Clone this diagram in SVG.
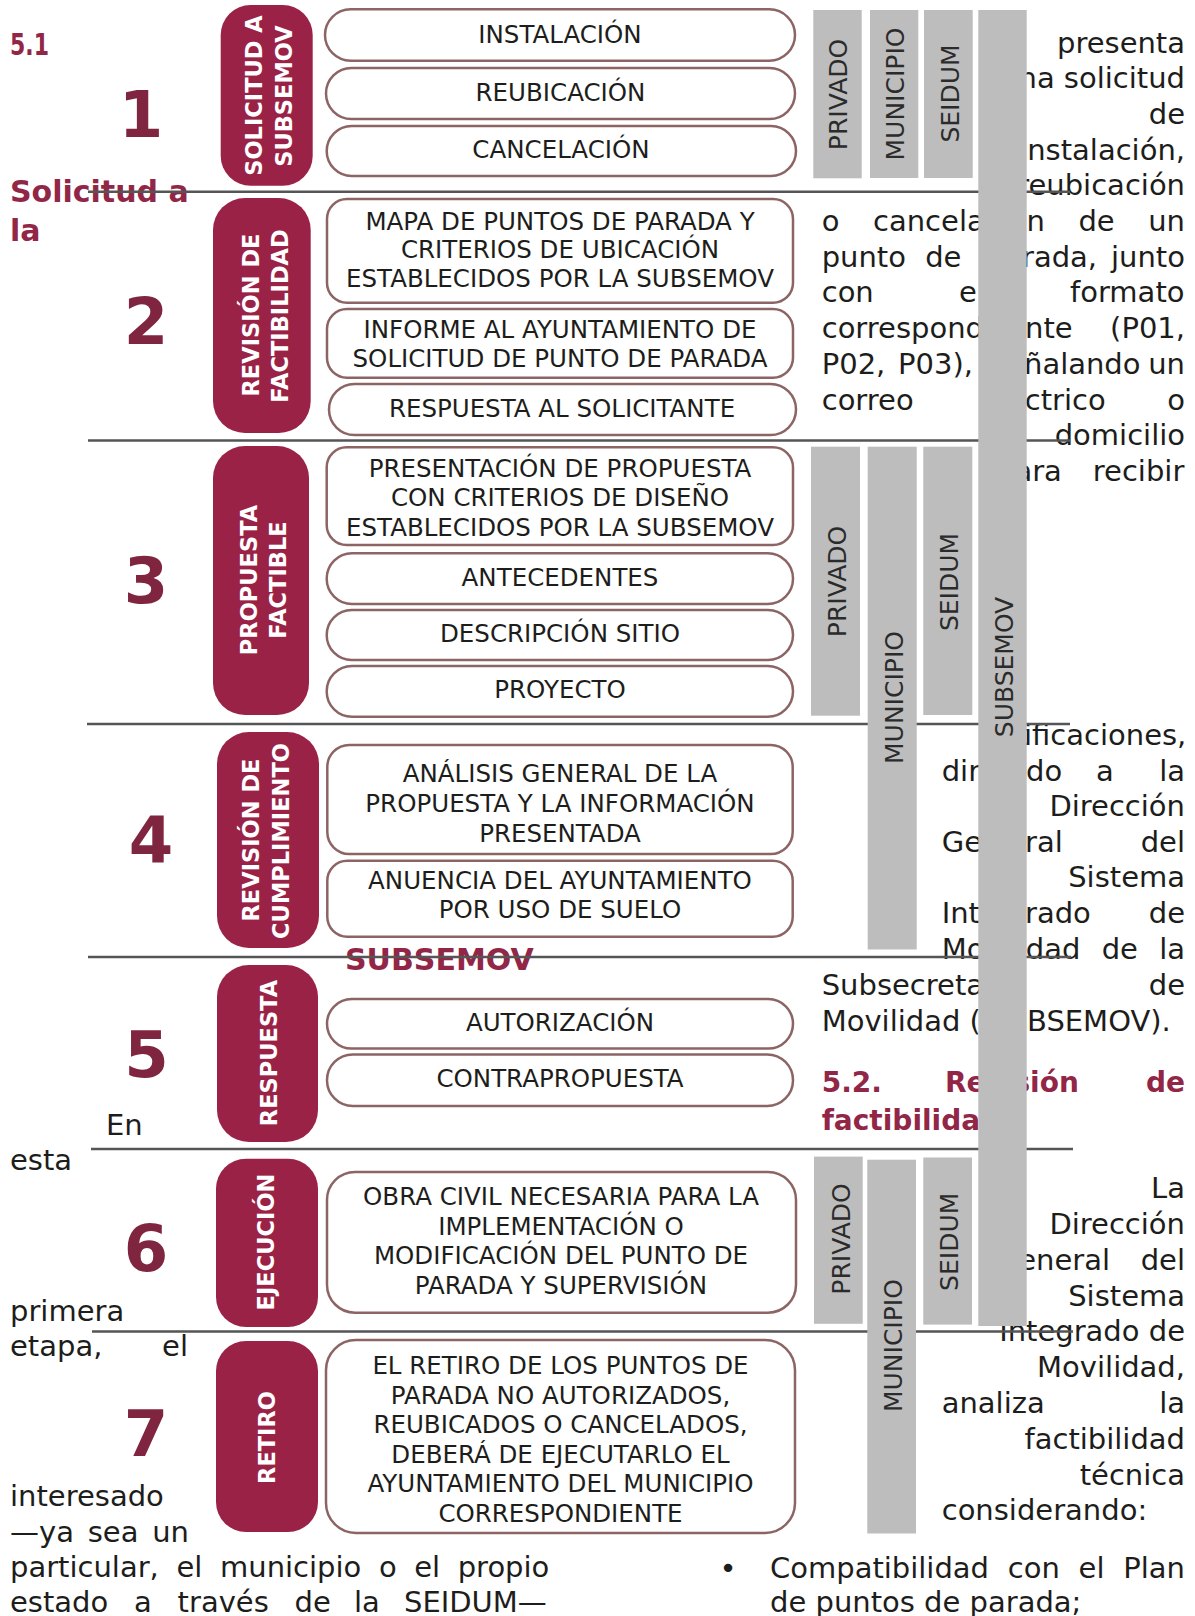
<svg xmlns="http://www.w3.org/2000/svg" width="1195" height="1616" viewBox="0 0 1195 1616">
<style>
text{font-family:"DejaVu Sans","Liberation Sans",sans-serif}
.body{font-size:29px;fill:#1d1d1b}
.e{text-anchor:end}
.h{font-weight:bold;fill:#922647}
.num{font-size:64px;font-weight:bold;fill:#80253f;text-anchor:middle}
.box{fill:#fff;stroke:#8c6464;stroke-width:2.5}
.bt{font-size:24.5px;fill:#1d1d1b;text-anchor:middle}
.badge{fill:#9b2247}
.bdt{font-size:22.5px;font-weight:bold;fill:#fff;text-anchor:middle}
.bar{fill:#bdbdbd}
.bl{font-size:25px;fill:#2b2b2b;text-anchor:middle}
.div{stroke:#555;stroke-width:2.5;fill:none}
</style>

<!-- background body text -->
<g id="background-text">
<text class="h" x="10" y="55" font-size="31" textLength="39" lengthAdjust="spacingAndGlyphs">5.1</text>
<text class="h" x="10" y="202" font-size="30">Solicitud a</text>
<text class="h" x="10" y="240.7" font-size="30">la</text>
<text class="h" x="345" y="970" font-size="30">SUBSEMOV</text>

<text class="body" x="106" y="1134.5">En</text>
<text class="body" x="10" y="1169.7">esta</text>
<text class="body" x="10" y="1320.5">primera</text>
<text class="body" y="1356.3"><tspan x="10">etapa,</tspan><tspan x="188" text-anchor="end">el</tspan></text>
<text class="body" x="10" y="1505.5">interesado</text>
<text class="body" y="1541.5"><tspan x="10">—ya</tspan><tspan x="87.7">sea</tspan><tspan x="152.2">un</tspan></text>
<text class="body" y="1577"><tspan x="10">particular,</tspan><tspan x="176.5">el</tspan><tspan x="220">municipio</tspan><tspan x="378.9">o</tspan><tspan x="414.2">el</tspan><tspan x="457.7">propio</tspan></text>
<text class="body" y="1612"><tspan x="10">estado</tspan><tspan x="134">a</tspan><tspan x="177.6">través</tspan><tspan x="294.5">de</tspan><tspan x="354">la</tspan><tspan x="404">SEIDUM—</tspan></text>

<text class="body e" x="1185" y="52.5">presenta</text>
<text class="body e" x="1185" y="88.2">una solicitud</text>
<text class="body e" x="1185" y="123.9">de</text>
<text class="body e" x="1185" y="159.6">instalación,</text>
<text class="body e" x="1185" y="195.3">reubicación</text>
<text class="body" y="231"><tspan x="821.7">o</tspan><tspan x="873">cancelación</tspan><tspan x="1078.4">de</tspan><tspan x="1148.2">un</tspan></text>
<text class="body" y="266.7"><tspan x="821.7">punto</tspan><tspan x="925.2">de</tspan><tspan x="984">pa</tspan><tspan x="1022">rada,</tspan><tspan x="1111">junto</tspan></text>
<text class="body" y="302.4"><tspan x="821.7">con</tspan><tspan x="958.9">el</tspan><tspan x="1070">formato</tspan></text>
<text class="body" y="338.1"><tspan x="821.7">correspondie</tspan><tspan x="1025">nte</tspan><tspan x="1110.1">(P01,</tspan></text>
<text class="body" y="373.8"><tspan x="821.7">P02,</tspan><tspan x="898.1">P03),</tspan><tspan x="985.8">se</tspan><tspan x="1024">ñalando</tspan><tspan x="1148.2">un</tspan></text>
<text class="body" y="409.5"><tspan x="821.7">correo</tspan><tspan x="981">eléctrico</tspan><tspan x="1167.3">o</tspan></text>
<text class="body e" x="1185" y="445.2">domicilio</text>
<text class="body" y="480.9"><tspan x="996">para</tspan><tspan x="1092.8">recibir</tspan></text>

<text class="body" y="745"><tspan x="980">not</tspan><tspan x="1024">ificaciones,</tspan></text>
<text class="body" y="780.5"><tspan x="941.7">dirigi</tspan><tspan x="1026">do</tspan><tspan x="1096">a</tspan><tspan x="1159.3">la</tspan></text>
<text class="body e" x="1185" y="816">Dirección</text>
<text class="body" y="851.5"><tspan x="941.7">Gene</tspan><tspan x="1025">ral</tspan><tspan x="1185" text-anchor="end">del</tspan></text>
<text class="body e" x="1185" y="887">Sistema</text>
<text class="body" y="922.5"><tspan x="941.7">Integ</tspan><tspan x="1025">rado</tspan><tspan x="1185" text-anchor="end">de</tspan></text>
<text class="body" y="958.5"><tspan x="941.7">Movilidad</tspan><tspan x="1101.7">de</tspan><tspan x="1159.3">la</tspan></text>
<text class="body" y="994.5"><tspan x="821.7">Subsecretaría</tspan><tspan x="1185" text-anchor="end">de</tspan></text>
<text class="body" y="1030.5"><tspan x="821.7">Movilidad (SU</tspan><tspan x="1027">BSEMOV).</tspan></text>
<text class="h" font-size="28" y="1091.7"><tspan x="821.7">5.2.</tspan><tspan x="945">Revisión</tspan><tspan x="1185" text-anchor="end">de</tspan></text>
<text class="h" font-size="28" x="821.7" y="1130">factibilidad</text>

<text class="body e" x="1185" y="1198">La</text>
<text class="body e" x="1185" y="1234">Dirección</text>
<text class="body" y="1269.8"><tspan x="1110" text-anchor="end">General</tspan><tspan x="1185" text-anchor="end">del</tspan></text>
<text class="body e" x="1185" y="1305.6">Sistema</text>
<text class="body e" x="1185" y="1341.4">Integrado de</text>
<text class="body e" x="1185" y="1377.2">Movilidad,</text>
<text class="body" y="1413"><tspan x="941.7">analiza</tspan><tspan x="1185" text-anchor="end">la</tspan></text>
<text class="body e" x="1185" y="1448.8">factibilidad</text>
<text class="body e" x="1185" y="1484.6">técnica</text>
<text class="body" x="941.7" y="1520.4">considerando:</text>

<text class="body" x="728" y="1578" text-anchor="middle">•</text>
<text class="body" y="1578"><tspan x="770">Compatibilidad</tspan><tspan x="1007.8">con</tspan><tspan x="1078.6">el</tspan><tspan x="1185" text-anchor="end">Plan</tspan></text>
<text class="body" x="770" y="1612">de puntos de parada;</text>
</g>

<!-- dividers -->
<g id="connectors">
<line class="div" x1="88" y1="191.7" x2="1070" y2="191.7"/>
<line class="div" x1="88" y1="440.5" x2="1070" y2="440.5"/>
<line class="div" x1="87" y1="724" x2="1070" y2="724"/>
<line class="div" x1="88" y1="957" x2="1071" y2="957"/>
<line class="div" x1="91" y1="1149" x2="1073" y2="1149"/>
<line class="div" x1="92" y1="1331.5" x2="1073" y2="1331.5"/>
</g>

<!-- step numbers -->
<g id="numbers">
<text class="num" x="141" y="137">1</text>
<text class="num" x="146" y="344">2</text>
<text class="num" x="146" y="603">3</text>
<text class="num" x="151" y="863">4</text>
<text class="num" x="146.5" y="1077">5</text>
<text class="num" x="146" y="1271">6</text>
<text class="num" x="146" y="1456">7</text>
</g>

<!-- badges -->
<g id="badge-1"><rect class="badge" x="220.7" y="5" width="92" height="180.7" rx="30"/>
<text class="bdt" transform="translate(261.7,95.5) rotate(-90)">SOLICITUD A</text>
<text class="bdt" transform="translate(292,96) rotate(-90)">SUBSEMOV</text></g>
<g id="badge-2"><rect class="badge" x="213" y="198" width="97.7" height="235" rx="32"/>
<text class="bdt" transform="translate(259.3,315) rotate(-90)">REVISIÓN DE</text>
<text class="bdt" transform="translate(287.7,316) rotate(-90)">FACTIBILIDAD</text></g>
<g id="badge-3"><rect class="badge" x="213" y="446" width="96" height="269" rx="32"/>
<text class="bdt" transform="translate(256.7,580) rotate(-90)">PROPUESTA</text>
<text class="bdt" transform="translate(286,580) rotate(-90)">FACTIBLE</text></g>
<g id="badge-4"><rect class="badge" x="217" y="732" width="102" height="216" rx="32"/>
<text class="bdt" transform="translate(259.3,840) rotate(-90)">REVISIÓN DE</text>
<text class="bdt" transform="translate(288.7,841) rotate(-90)">CUMPLIMIENTO</text></g>
<g id="badge-5"><rect class="badge" x="217" y="965" width="101" height="177" rx="32"/>
<text class="bdt" transform="translate(277.3,1053) rotate(-90)">RESPUESTA</text></g>
<g id="badge-6"><rect class="badge" x="216" y="1158.7" width="102" height="168.3" rx="30"/>
<text class="bdt" transform="translate(274,1242) rotate(-90)">EJECUCIÓN</text></g>
<g id="badge-7"><rect class="badge" x="216" y="1341" width="102" height="191" rx="30"/>
<text class="bdt" transform="translate(275.3,1437.5) rotate(-90)">RETIRO</text></g>

<!-- outlined boxes -->
<g id="box-instalacion"><rect class="box" x="325" y="9.3" width="470" height="51.4" rx="25.7"/><text class="bt" x="560" y="42.7">INSTALACIÓN</text></g>
<g id="box-reubicacion"><rect class="box" x="326" y="68" width="469" height="51" rx="25.5"/><text class="bt" x="560.5" y="100.7">REUBICACIÓN</text></g>
<g id="box-cancelacion"><rect class="box" x="326.7" y="126" width="469.3" height="50" rx="25"/><text class="bt" x="561" y="158.3">CANCELACIÓN</text></g>
<g id="box-mapa"><rect class="box" x="327" y="199" width="466" height="103.7" rx="20"/>
<text class="bt" x="560" y="230">MAPA DE PUNTOS DE PARADA Y</text>
<text class="bt" x="560" y="258.3">CRITERIOS DE UBICACIÓN</text>
<text class="bt" x="560" y="287.3">ESTABLECIDOS POR LA SUBSEMOV</text></g>
<g id="box-informe"><rect class="box" x="327" y="309" width="466" height="68.7" rx="20"/>
<text class="bt" x="560" y="338.3">INFORME AL AYUNTAMIENTO DE</text>
<text class="bt" x="560" y="366.7">SOLICITUD DE PUNTO DE PARADA</text></g>
<g id="box-respuesta-solicitante"><rect class="box" x="329" y="384" width="467" height="51" rx="25.5"/><text class="bt" x="562" y="417.3">RESPUESTA AL SOLICITANTE</text></g>
<g id="box-presentacion"><rect class="box" x="326.7" y="447.3" width="466.3" height="97.7" rx="20"/>
<text class="bt" x="560" y="476.7">PRESENTACIÓN DE PROPUESTA</text>
<text class="bt" x="560" y="506">CON CRITERIOS DE DISEÑO</text>
<text class="bt" x="560" y="536">ESTABLECIDOS POR LA SUBSEMOV</text></g>
<g id="box-antecedentes"><rect class="box" x="326.7" y="553.3" width="466.3" height="50.7" rx="25.3"/><text class="bt" x="560" y="586">ANTECEDENTES</text></g>
<g id="box-descripcion"><rect class="box" x="326.7" y="610" width="466.3" height="50" rx="25"/><text class="bt" x="560" y="641.7">DESCRIPCIÓN SITIO</text></g>
<g id="box-proyecto"><rect class="box" x="326.7" y="666" width="466.3" height="50.7" rx="25.3"/><text class="bt" x="560" y="698.3">PROYECTO</text></g>
<g id="box-analisis"><rect class="box" x="327.3" y="745" width="465.4" height="109" rx="22"/>
<text class="bt" x="560" y="782.3">ANÁLISIS GENERAL DE LA</text>
<text class="bt" x="560" y="811.7">PROPUESTA Y LA INFORMACIÓN</text>
<text class="bt" x="560" y="841.7">PRESENTADA</text></g>
<g id="box-anuencia"><rect class="box" x="327.3" y="860.7" width="465.4" height="76" rx="20"/>
<text class="bt" x="560" y="889.3">ANUENCIA DEL AYUNTAMIENTO</text>
<text class="bt" x="560" y="918.3">POR USO DE SUELO</text></g>
<g id="box-autorizacion"><rect class="box" x="327" y="999" width="466" height="49.6" rx="24.8"/><text class="bt" x="560" y="1031.4">AUTORIZACIÓN</text></g>
<g id="box-contrapropuesta"><rect class="box" x="327" y="1054.4" width="466" height="51.6" rx="25.8"/><text class="bt" x="560" y="1087">CONTRAPROPUESTA</text></g>
<g id="box-obra-civil"><rect class="box" x="327" y="1172" width="469" height="140.7" rx="28"/>
<text class="bt" x="561" y="1205">OBRA CIVIL NECESARIA PARA LA</text>
<text class="bt" x="561" y="1234.5">IMPLEMENTACIÓN O</text>
<text class="bt" x="561" y="1264">MODIFICACIÓN DEL PUNTO DE</text>
<text class="bt" x="561" y="1293.5">PARADA Y SUPERVISIÓN</text></g>
<g id="box-retiro"><rect class="box" x="326" y="1340" width="469" height="193" rx="30"/>
<text class="bt" x="560.5" y="1374">EL RETIRO DE LOS PUNTOS DE</text>
<text class="bt" x="560.5" y="1403.5">PARADA NO AUTORIZADOS,</text>
<text class="bt" x="560.5" y="1433">REUBICADOS O CANCELADOS,</text>
<text class="bt" x="560.5" y="1462.5">DEBERÁ DE EJECUTARLO EL</text>
<text class="bt" x="560.5" y="1492">AYUNTAMIENTO DEL MUNICIPIO</text>
<text class="bt" x="560.5" y="1521.5">CORRESPONDIENTE</text></g>

<!-- gray actor bars -->
<g id="bar-privado-1"><rect class="bar" x="813.3" y="10" width="48.4" height="168.3"/><text class="bl" transform="translate(846.6,94.5) rotate(-90)">PRIVADO</text></g>
<g id="bar-municipio-1"><rect class="bar" x="870" y="10" width="48.3" height="168"/><text class="bl" transform="translate(904,94) rotate(-90)">MUNICIPIO</text></g>
<g id="bar-seidum-1"><rect class="bar" x="924" y="10" width="48.7" height="168"/><text class="bl" transform="translate(958.5,93.5) rotate(-90)">SEIDUM</text></g>
<g id="bar-subsemov"><rect class="bar" x="978.3" y="10" width="48.4" height="1316"/><text class="bl" transform="translate(1012.5,667) rotate(-90)">SUBSEMOV</text></g>
<g id="bar-privado-3"><rect class="bar" x="811" y="446.7" width="49" height="269"/><text class="bl" transform="translate(845.5,581.5) rotate(-90)">PRIVADO</text></g>
<g id="bar-municipio-3"><rect class="bar" x="867.7" y="446.7" width="49" height="502.8"/><text class="bl" transform="translate(902.5,697.5) rotate(-90)">MUNICIPIO</text></g>
<g id="bar-seidum-3"><rect class="bar" x="923.3" y="446.7" width="49" height="268.3"/><text class="bl" transform="translate(957.5,582) rotate(-90)">SEIDUM</text></g>
<g id="bar-privado-6"><rect class="bar" x="814" y="1156.6" width="48.7" height="167.2"/><text class="bl" transform="translate(849.5,1239) rotate(-90)">PRIVADO</text></g>
<g id="bar-municipio-6"><rect class="bar" x="867.3" y="1159.7" width="48.7" height="373.8"/><text class="bl" transform="translate(902,1345.6) rotate(-90)">MUNICIPIO</text></g>
<g id="bar-seidum-6"><rect class="bar" x="923.3" y="1157.5" width="48.7" height="167.1"/><text class="bl" transform="translate(957.5,1241.8) rotate(-90)">SEIDUM</text></g>
</svg>
